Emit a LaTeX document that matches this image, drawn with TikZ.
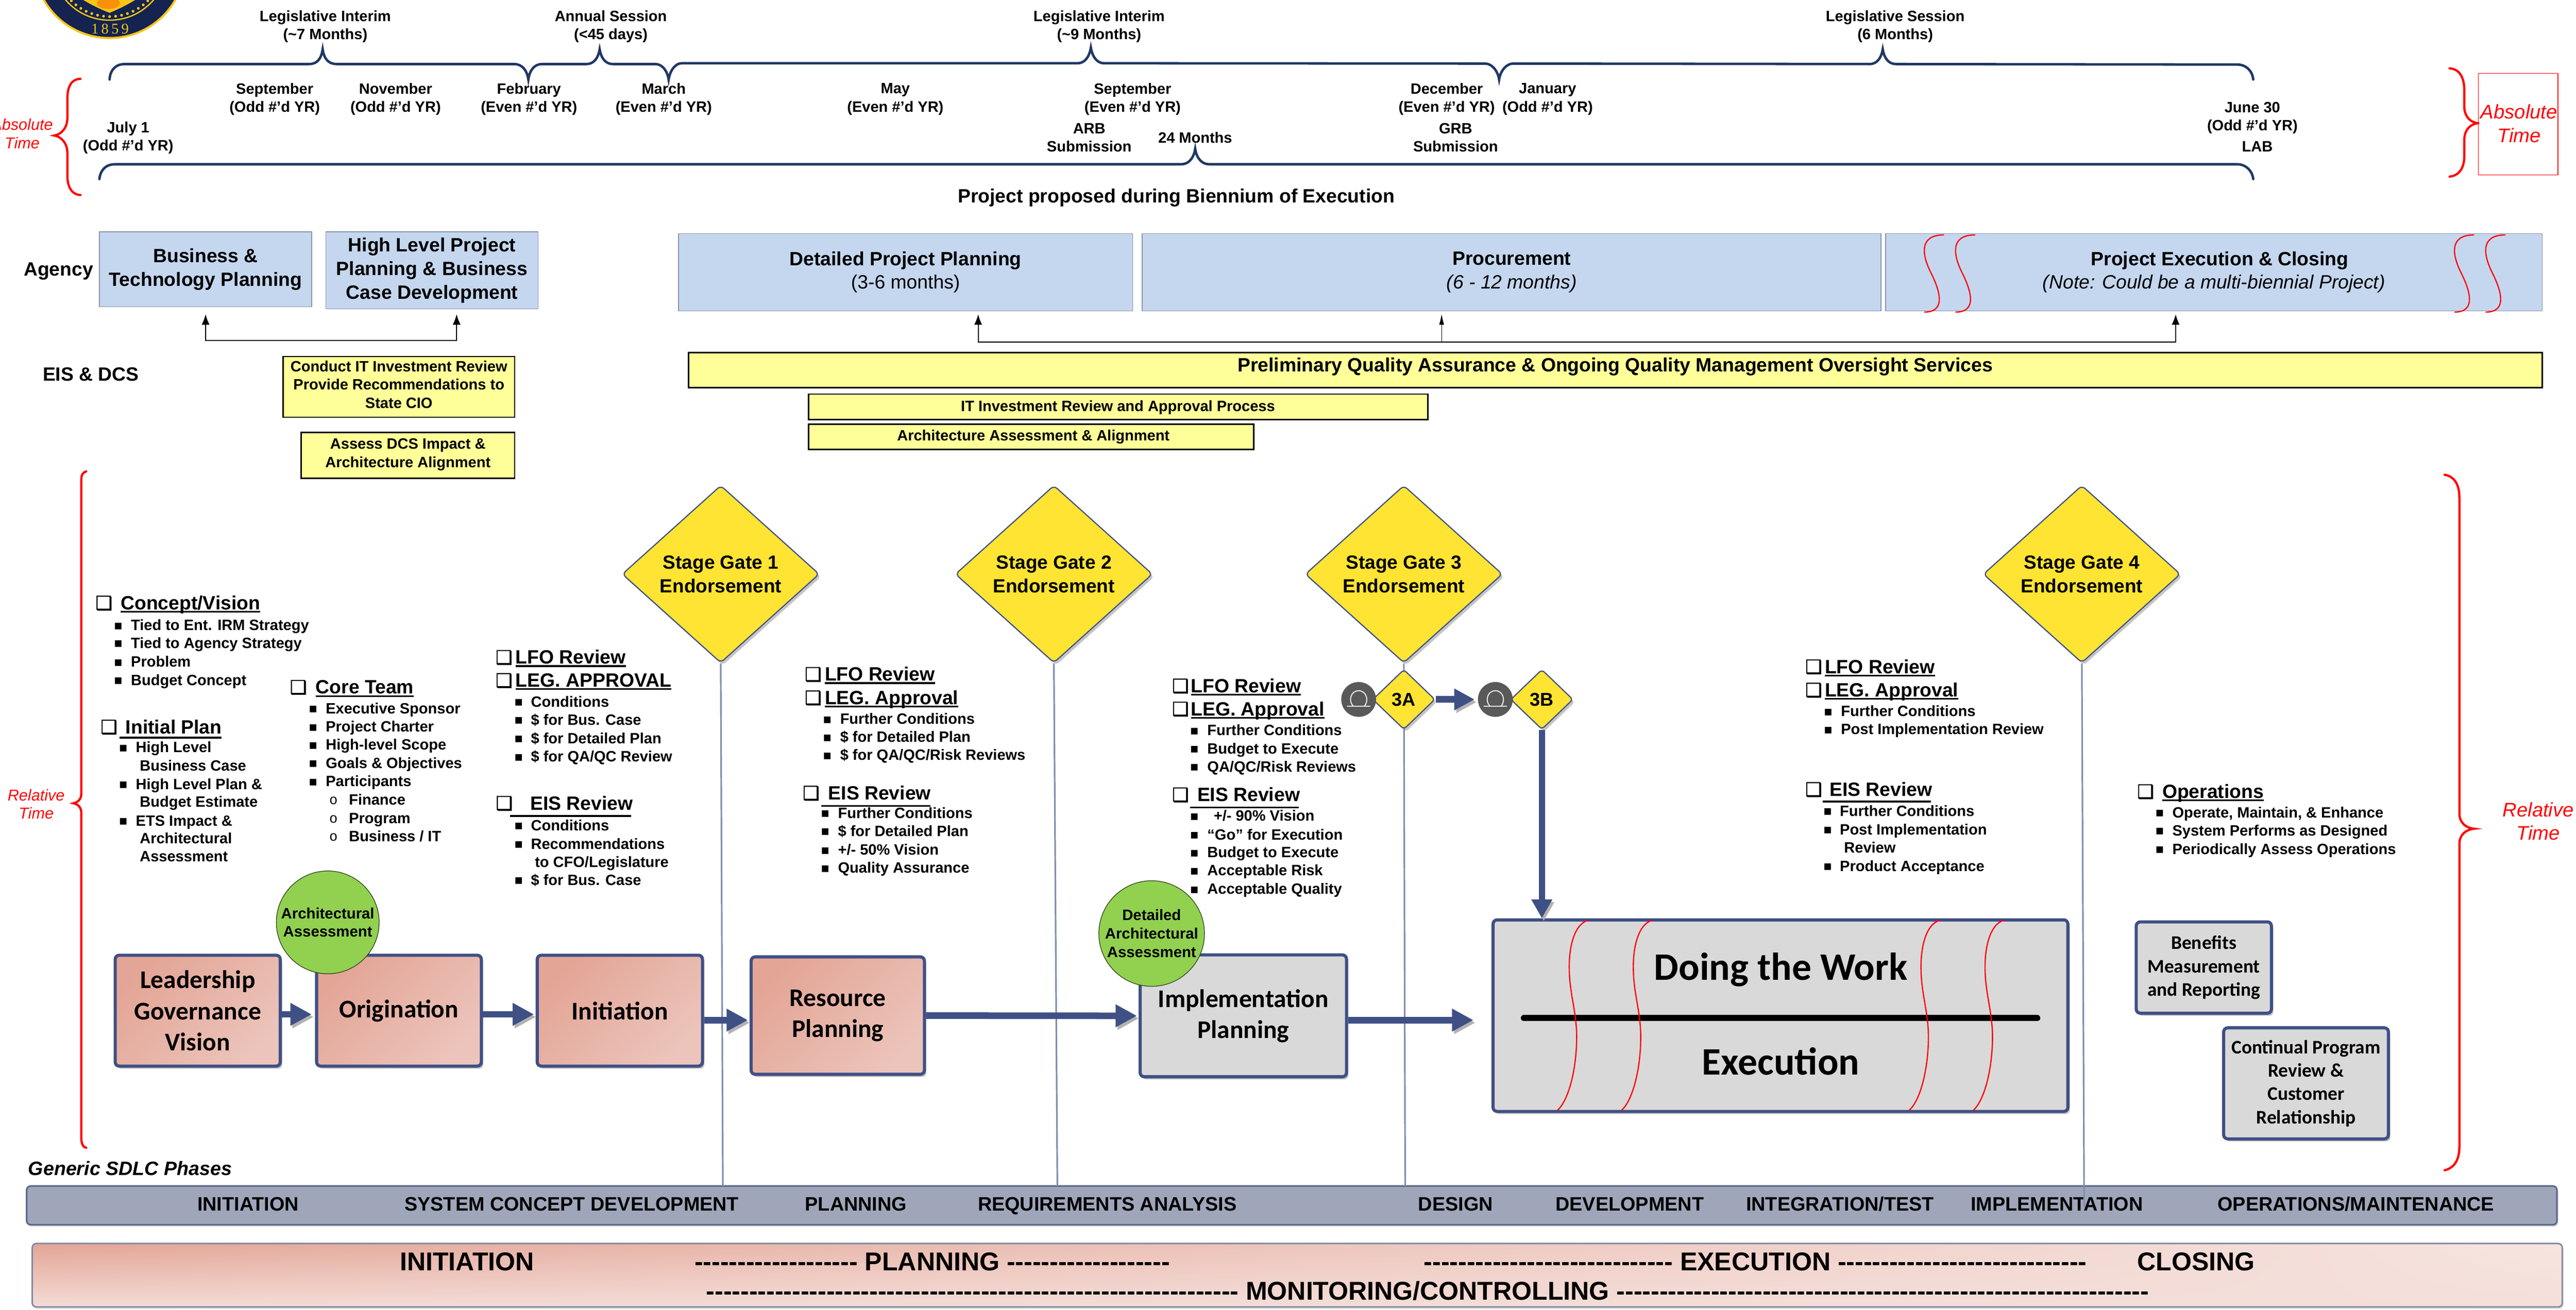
\documentclass[tikz,border=0pt]{standalone}
\usepackage{fontspec}
\setmainfont{Liberation Sans}
\newfontfamily\calfont{Carlito}
\newfontfamily\djfont{DejaVu Sans}
\newfontfamily\cbfont[FakeBold=1.2]{DejaVu Sans}
\newfontfamily\sealfont[LetterSpace=18]{Liberation Serif}
\newfontfamily\courfont{Liberation Mono}
\usetikzlibrary{arrows.meta,shapes.geometric,shadows,shadings,calc}
\definecolor{navybrace}{HTML}{1F3864}
\definecolor{boxnavy}{HTML}{3F5085}
\definecolor{agencyblue}{HTML}{C5D7EF}
\definecolor{agencyedge}{HTML}{8794AC}
\definecolor{paleyellow}{HTML}{FFFF99}
\definecolor{gateyellow}{HTML}{FFE433}
\definecolor{salmonA}{HTML}{E3A596}
\definecolor{salmonB}{HTML}{ECC4BB}
\definecolor{boxgray}{HTML}{D9D9D9}
\definecolor{leafgreen}{HTML}{92D050}
\definecolor{barfill}{HTML}{9FA6BA}
\definecolor{baredge}{HTML}{5E6A8C}
\definecolor{gateline}{HTML}{8290AE}
\definecolor{sealgold}{HTML}{F5C518}
\definecolor{sealnavy}{HTML}{14234F}
\definecolor{icongray}{HTML}{595959}
\newcounter{tc}
\newcommand\ul[1]{\leavevmode\setbox0\hbox{#1}\rlap{\rule[-1.8pt]{\wd0}{1pt}}\box0}
\newcommand\rbox[7]{\pgfmathsetmacro\cxx{(#3+#5)/2}\pgfmathsetmacro\cyy{(#4+#6)/2}\pgfmathsetmacro\wwd{#5-#3}\pgfmathsetmacro\hhd{#6-#4}%
  \node[#1,minimum width=\wwd pt,minimum height=\hhd pt] (#2) at (\cxx,\cyy) {#7};}
\newcommand\hd[3]{\stepcounter{tc}\node[hdtext] (t\arabic{tc}) at (#1,#2) {\ul{#3}};}
\newcommand\hdn[3]{\stepcounter{tc}\node[hdtext] (t\arabic{tc}) at (#1,#2) {#3};}
\newcommand\cbx[2]{\stepcounter{tc}\node[cbtext] (t\arabic{tc}) at (#1,#2) {❑};}
\newcommand\bul[4]{\stepcounter{tc}\node[bltext] (t\arabic{tc}) at (#1,#3) {▪};\stepcounter{tc}\node[ittext] (t\arabic{tc}) at (#2,#3) {#4};}
\newcommand\sbul[4]{\stepcounter{tc}\node[subtext] (t\arabic{tc}) at (#1,#3) {o};\stepcounter{tc}\node[ittext] (t\arabic{tc}) at (#2,#3) {#4};}
\newcommand\lin[3]{\stepcounter{tc}\node[ittext] (t\arabic{tc}) at (#1,#2) {#3};}
\newcommand\phs[2]{\stepcounter{tc}\node[phtext] (t\arabic{tc}) at (#1,733.1) {#2};}
\newcommand\dashrun[1]{\foreach \i in {1,...,#1}{-}}
\tikzset{
  x=1pt,y=-1pt,
  softshadow/.style={drop shadow={shadow xshift=1.2pt,shadow yshift=-1.6pt,fill=black!45,opacity=.5}},
  hdtext/.style={anchor=base west,yshift=-3.6pt,inner sep=0,font=\bfseries\fontsize{11.7}{14}\selectfont},
  cbtext/.style={anchor=base,yshift=-3.6pt,inner sep=0,font=\cbfont\fontsize{11.5}{14}\selectfont},
  bltext/.style={anchor=base,yshift=-2.3pt,inner sep=0,font=\djfont\fontsize{8}{10}\selectfont},
  subtext/.style={anchor=base,yshift=-2.6pt,inner sep=0,font=\courfont\fontsize{8.5}{10}\selectfont},
  ittext/.style={anchor=base west,yshift=-2.8pt,inner sep=0,font=\bfseries\fontsize{9.1}{11}\selectfont},
  phtext/.style={anchor=base,yshift=-4pt,inner sep=0,font=\bfseries\fontsize{11.85}{14}\selectfont},
  tltext/.style={align=center,inner sep=0,yshift=-.4pt,font=\bfseries\fontsize{9.1}{11.1}\selectfont},
  bigtext/.style={align=center,inner sep=0,font=\bfseries\fontsize{11.7}{14.3}\selectfont},
  redtext/.style={align=center,inner sep=0,text=red,font=\itshape},
  bluebox/.style={rectangle,draw=agencyedge,line width=.5pt,fill=agencyblue,inner sep=0,align=center,execute at begin node={\rule{0pt}{12.6pt}},font=\bfseries\fontsize{11.7}{14.3}\selectfont},
  yelbox/.style={rectangle,draw=black,line width=.9pt,fill=paleyellow,inner sep=0,align=center,text depth=3pt,font=\bfseries\fontsize{9.1}{11.1}\selectfont},
  procbox/.style={rectangle,rounded corners=2.5pt,draw=boxnavy,line width=1.9pt,inner sep=0,align=center,softshadow,shading=axis,left color=salmonB,right color=salmonA,shading angle=-135,font=\calfont\bfseries\fontsize{15.5}{18.9}\selectfont},
  graybox/.style={rectangle,rounded corners=2.5pt,draw=boxnavy,line width=1.9pt,inner sep=0,align=center,softshadow,fill=boxgray,font=\calfont\bfseries\fontsize{15.5}{18.9}\selectfont},
  smallgray/.style={graybox,font=\calfont\bfseries\fontsize{11.7}{14.2}\selectfont},
  gatebox/.style={diamond,rounded corners=2.5pt,draw=boxnavy,line width=.7pt,fill=gateyellow,inner sep=0,align=center,softshadow,minimum width=120pt,minimum height=108pt,font=\bfseries\fontsize{11.6}{14.3}\selectfont},
  smallgate/.style={diamond,rounded corners=2pt,draw=boxnavy,line width=.7pt,fill=gateyellow,inner sep=0,softshadow,minimum width=38pt,minimum height=36.5pt,font=\bfseries\fontsize{11.3}{14}\selectfont},
  iconc/.style={circle,fill=icongray,inner sep=0,minimum size=21.2pt},
  iconline/.style={draw=white!85!icongray,line width=.65pt,line cap=round},
  greenc/.style={circle,draw=black!70!leafgreen,line width=.4pt,fill=leafgreen,inner sep=0,align=center,font=\bfseries\fontsize{9.2}{11.2}\selectfont},
  blockarrow/.style={draw=boxnavy,line width=4pt,-{Triangle[width=13pt,length=13pt]},preaction={draw=black!30,transform canvas={shift={(1.2pt,-1.6pt)}}}},
  navyb/.style={draw=navybrace,line width=1.5pt,line cap=round},
  redb/.style={draw=red,line width=1.35pt,line cap=round},
  redw/.style={draw=red,line width=.75pt},
  agarrow/.style={draw=black,line width=.7pt,{Latex[length=6.4pt,width=4.8pt]}-{Latex[length=6.4pt,width=4.8pt]}},
  agthin/.style={draw=black,line width=.3pt,-{Latex[length=6.4pt,width=3pt]}},
  gline/.style={draw=gateline,line width=1pt},
  ulline/.style={draw=black,line width=1.1pt},
}
\begin{document}
\begin{tikzpicture}
\path[use as bounding box,clip] (0,0) rectangle (1568,797.4);
\fill[white] (0,0) rectangle (1568,797.4);
% seal
\fill[sealgold] (66.7,-22.9) circle (46.7pt);
\fill[sealnavy] (66.7,-22.9) circle (45.4pt);
\draw[sealgold,line width=.8pt] (66.7,-22.9) circle (35.2pt);
\foreach \k in {-7,...,7}{\fill[sealgold] ({66.7+33*cos(90+6.4*\k)},{-22.9+33*sin(90+6.4*\k)}) circle (.85pt);}
\fill[sealgold] (46,-3) .. controls (55,3) and (62,6) .. (66.7,7.8) .. controls (71,6) and (78,3) .. (87,-3) -- cycle;
\fill[orange!80!red,opacity=.55] (66,2) ellipse (7pt and 3.5pt);
\node[inner sep=0,text=sealgold,font=\sealfont\fontsize{9}{10}\selectfont] (seal) at (67,17.6) {1859};
% braces
\draw[navyb] (66.7,48.4) .. controls (67,43) and (70,39) .. (76,39)
 -- (188,39) .. controls (193,39) and (195.5,36) .. (196.4,30) .. controls (197.3,36) and (200,39) .. (205,39)
 -- (313,39) .. controls (318,39) and (320.8,43) .. (321.6,48.4) .. controls (322.4,43) and (325,39) .. (330,39)
 -- (357,39) .. controls (361,39) and (364,36) .. (365,30) .. controls (366,36) and (369,39) .. (373,39)
 -- (399,39) .. controls (403,39) and (406.2,43) .. (407,48.4) .. controls (407.8,43) and (411,38.5) .. (415,38.5)
 -- (656,38.5) .. controls (660,38.5) and (663,35) .. (664,29) .. controls (665,35) and (668,38.5) .. (672,38.5)
 -- (904,38.7) .. controls (908,38.7) and (911.7,43) .. (912.5,48.4) .. controls (913.3,43) and (917,38.7) .. (921,38.7)
 -- (1138,39) .. controls (1142,39) and (1145,36) .. (1146,30) .. controls (1147,36) and (1150,39) .. (1154,39)
 -- (1362,39.3) .. controls (1367,39.3) and (1371,43) .. (1371.5,48.4);
\draw[navyb] (60.5,109) .. controls (61,104) and (64,100) .. (70,100) -- (719,100)
 .. controls (723,100) and (726.5,97) .. (727.5,90.6) .. controls (728.5,97) and (732,100) .. (736,100)
 -- (1362,100) .. controls (1367,100) and (1371,104) .. (1371.5,109);
\draw[redb] (49,48) .. controls (44,48) and (41,52) .. (41,60) -- (41,72) .. controls (41,78) and (37,82) .. (33,82.5) .. controls (37,83) and (41,87) .. (41,93) -- (41,107) .. controls (41,114) and (44,118.7) .. (49,118.7);
\draw[redb] (1491,41.6) .. controls (1497,42) and (1500,47) .. (1500,55) -- (1500,65) .. controls (1500,71) and (1504,75) .. (1509,75) .. controls (1504,75) and (1500,79) .. (1500,85) -- (1500,95) .. controls (1500,102) and (1497,107) .. (1491,107.5);
\draw[redb] (52.5,287) .. controls (50.5,287.5) and (49.5,289) .. (49.5,292) -- (49.5,483) .. controls (49.5,487) and (47,488.5) .. (44.7,489) .. controls (47,489.5) and (49.5,491) .. (49.5,495) -- (49.5,693) .. controls (49.5,696) and (50.5,698.5) .. (52.5,698.7);
\draw[redb] (1488,289) .. controls (1494,290) and (1497,295) .. (1497,303) -- (1497,495) .. controls (1497,501) and (1501,504) .. (1506,504.5) .. controls (1501,505) and (1497,508) .. (1497,514) -- (1497,698) .. controls (1497,706) and (1494,711) .. (1488,712.4);
% red labels
\node[rectangle,draw=red,line width=.5pt,minimum width=48.5pt,minimum height=61.8pt,inner sep=0] (abrect) at (1532.75,75.6) {};
\node[redtext,font=\itshape\fontsize{12}{14.3}\selectfont] (abright) at (1533.3,75.2) {Absolute\\Time};
\node[redtext,font=\itshape\fontsize{9.6}{11.2}\selectfont] (ableft) at (13.5,81.5) {Absolute\\Time};
\node[redtext,font=\itshape\fontsize{9.6}{11.2}\selectfont] (relleft) at (22,489.5) {Relative\\Time};
\node[redtext,font=\itshape\fontsize{12}{14.3}\selectfont] (relright) at (1545,500) {Relative\\Time};
% timeline text
\node[tltext] (a1) at (198,15.8) {Legislative Interim\\(\textasciitilde 7 Months)};
\node[tltext] (a2) at (371.8,15.8) {Annual Session\\(<45 days)};
\node[tltext] (a3) at (669,15.8) {Legislative Interim\\(\textasciitilde 9 Months)};
\node[tltext] (a4) at (1153.6,15.8) {Legislative Session\\(6 Months)};
\node[tltext] (b1) at (167.2,60) {September\\(Odd \#’d YR)};
\node[tltext] (b2) at (240.8,60) {November\\(Odd \#’d YR)};
\node[tltext] (b3) at (322,60) {February\\(Even \#’d YR)};
\node[tltext] (b4) at (404,60) {March\\(Even \#’d YR)};
\node[tltext] (b5) at (545,60) {May\\(Even \#’d YR)};
\node[tltext] (b6) at (689.4,60) {September\\(Even \#’d YR)};
\node[tltext] (b7) at (880.6,60) {December\\(Even \#’d YR)};
\node[tltext] (b8) at (942,60) {January\\(Odd \#’d YR)};
\node[tltext] (c1) at (78,83.4) {July 1\\(Odd \#’d YR)};
\node[tltext] (c2) at (663,83.4) {ARB\\Submission};
\node[tltext] (c3) at (727.5,83.3) {24 Months};
\node[tltext] (c4) at (886,83.4) {GRB\\Submission};
\node[tltext] (c5) at (1371,71.3) {June 30\\(Odd \#’d YR)};
\node[tltext] (c6) at (1374,88.7) {LAB};
\node[bigtext] (biennium) at (716,120.4) {Project proposed during Biennium of Execution};
\node[bigtext] (agencyl) at (35.6,165) {Agency};
\node[bigtext] (eisl) at (55.3,228) {EIS \& DCS};
% agency boxes
\rbox{bluebox}{bus}{60.5}{141.2}{189.8}{186.8}{Business \&\\Technology Planning}
\rbox{bluebox}{high}{198.4}{141.2}{327.5}{188}{High Level Project\\Planning \& Business\\Case Development}
\rbox{bluebox}{detail}{413}{142.2}{689.4}{189.3}{Detailed Project Planning\\{\mdseries (3-6 months)}}
\rbox{bluebox}{proc}{695.3}{142.2}{1145}{189.3}{Procurement\\{\mdseries\itshape (6 - 12 months)}}
\rbox{bluebox}{exec}{1147.8}{142.2}{1547.5}{189.3}{\hspace*{7pt}Project Execution \& Closing\\{\mdseries\itshape (Note: Could be a multi-biennial Project)}}
\foreach \a in {1183.3,1202.3,1506,1525}{
  \draw[redw,xshift=\a pt] (0,143) .. controls (-16,143) and (-13,156) .. (-8,166) .. controls (-3,176) and (2,190) .. (-12,190);}
\draw[agarrow] ([yshift=-4.2pt]bus.south) -- ++(0,16) -| ([xshift=15pt,yshift=-3pt]high.south);
\draw[agarrow] ([xshift=44.2pt,yshift=-1.7pt]detail.south) -- ++(0,16.9) -| ([xshift=-23.35pt,yshift=-1.7pt]exec.south);
\coordinate (junction) at (877.5,207.9);
\draw[agthin] (junction) -- ([xshift=-42.65pt,yshift=-1.7pt]proc.south);
% yellow boxes
\rbox{yelbox}{conduct}{172.3}{217}{313.3}{254}{Conduct IT Investment Review\\Provide Recommendations to\\State CIO}
\rbox{yelbox}{assess}{183.3}{263.3}{313.3}{291.3}{Assess DCS Impact \&\\Architecture Alignment}
\rbox{yelbox}{prelim}{419}{214.6}{1547.5}{236}{}
\node[bigtext] (prelimtext) at (983.2,223.4) {Preliminary Quality Assurance \& Ongoing Quality Management Oversight Services};
\rbox{yelbox}{itrev}{492.2}{239.9}{869}{255.5}{\hspace*{0pt}}
\node[tltext] (itrevtext) at (680.5,247.6) {IT Investment Review and Approval Process};
\rbox{yelbox}{archal}{492.2}{258.2}{763}{273.7}{\hspace*{0pt}}
\node[tltext] (archaltext) at (629,265.6) {Architecture Assessment \& Alignment};
% phase bars
\rbox{rectangle,rounded corners=2.5pt,draw=baredge,line width=1pt,fill=barfill,inner sep=0,drop shadow={shadow xshift=.8pt,shadow yshift=-1.1pt,fill=black!40,opacity=.4}}{phase}{16.2}{722}{1556.4}{745.6}{}
\rbox{rectangle,rounded corners=2.5pt,draw=baredge!80,line width=.9pt,inner sep=0,shading=bilinear interpolation,upper left=salmonA,upper right=salmonB!45!white,lower left=salmonB!60!white,lower right=salmonB!55!white,drop shadow={shadow xshift=.8pt,shadow yshift=-1.1pt,fill=black!40,opacity=.4}}{lifecycle}{19.6}{757}{1559.6}{795.6}{}
\phs{151}{INITIATION}\phs{348}{SYSTEM CONCEPT DEVELOPMENT}\phs{521}{PLANNING}\phs{674}{REQUIREMENTS ANALYSIS}\phs{886}{DESIGN}\phs{992}{DEVELOPMENT}\phs{1120}{INTEGRATION/TEST}\phs{1252}{IMPLEMENTATION}\phs{1434}{OPERATIONS/MAINTENANCE}
\node[anchor=base west,inner sep=0,font=\bfseries\itshape\fontsize{11.8}{14}\selectfont] (sdlc) at (17,715.4) {Generic SDLC Phases};
\tikzset{lc/.style={anchor=base,inner sep=0,font=\bfseries\fontsize{15.7}{18}\selectfont}}
\node[lc] (lc1) at (284.3,773.6) {INITIATION};
\node[lc] (lc2) at (567.5,773.6) {\dashrun{19} PLANNING \dashrun{19}};
\node[lc] (lc3) at (1068.5,773.6) {\dashrun{29} EXECUTION \dashrun{29}};
\node[lc] (lc4) at (1336.7,773.6) {CLOSING};
\node[lc] (lc5) at (869,791.4) {\dashrun{62} MONITORING/CONTROLLING \dashrun{62}};
% gates
\node[gatebox] (g1) at (438.7,349.5) {Stage Gate 1\\Endorsement};
\node[gatebox] (g2) at (641.5,349.5) {Stage Gate 2\\Endorsement};
\node[gatebox] (g3) at (854.5,349.5) {Stage Gate 3\\Endorsement};
\node[gatebox] (g4) at (1267.2,349.5) {Stage Gate 4\\Endorsement};
\coordinate (g1end) at (440,722);
\coordinate (g2end) at (643.6,722);
\coordinate (g3end) at (855.3,722);
\coordinate (g4end) at (1268.6,734.8);
\draw[gline] (g1.south) -- (g1end);
\draw[gline] (g2.south) -- (g2end);
\draw[gline] (g3.south) -- (g3end);
\draw[gline] (g4.south) -- (g4end);
\node[smallgate] (d3a) at (854.5,425.8) {3A};
\node[smallgate] (d3b) at (938.5,425.8) {3B};
\foreach \nm/\px in {c3a/827,c3b/910.2}{
  \node[iconc] (\nm) at (\px,425.8) {};
  \begin{scope}[shift={(\nm.center)}]
    \draw[iconline] (-6.9,4.1) -- (6.9,4.1);
    \draw[iconline] (-3.5,3.8) .. controls (-6.3,1) and (-5,-5.3) .. (0,-5.3) .. controls (5,-5.3) and (6.3,1) .. (3.5,4.1);
  \end{scope}}
% process boxes
\rbox{procbox}{lead}{70.1}{581.5}{170.6}{649}{Leadership\\Governance\\Vision}
\rbox{procbox}{orig}{192.7}{581.5}{293}{649}{Origination}
\rbox{procbox}{init}{327}{581.5}{427.6}{649}{Initiation}
\rbox{procbox}{resp}{457.2}{582.5}{562.7}{654}{Resource\\Planning}
\rbox{graybox}{impl}{694}{581.3}{819.6}{655.5}{Implementation\\Planning}
\rbox{graybox}{doing}{908.8}{560}{1258.7}{676.6}{}
\rbox{smallgray}{bene}{1300.3}{561.2}{1382.6}{616.8}{Benefits\\Measurement\\and Reporting}
\rbox{smallgray}{cont}{1353.5}{625.7}{1453.8}{693.3}{Continual Program\\Review \&\\Customer\\Relationship}
\tikzset{dtext/.style={inner sep=0,font=\calfont\bfseries\fontsize{23.7}{28}\selectfont}}
\node[dtext] (dotext) at (1084,590.3) {Doing the Work};
\node[dtext] (extext) at (1084,646) {Execution};
\coordinate (barL) at (927.6,619.8);
\coordinate (barR) at (1240,619.8);
\draw[line width=3.8pt,line cap=round] (barL) -- (barR);
\foreach \a in {966.9,1005.9,1181,1220}{
  \draw[redw,xshift=\a pt] (0,560.2) .. controls (-8,562) and (-12,575) .. (-11.7,590) .. controls (-11.5,605) and (-7.5,615) .. (-7.2,630) .. controls (-7,650) and (-12,670) .. (-19,676);}
% block arrows
\draw[blockarrow] ([yshift=-2.25pt]lead.east) -- ([yshift=-2.25pt,xshift=-2pt]orig.west);
\draw[blockarrow] ([yshift=-2.25pt]orig.east) -- ([yshift=-2.25pt,xshift=-1pt]init.west);
\draw[blockarrow] ([yshift=-5.75pt]init.east) -- ([yshift=-2.75pt,xshift=-1pt]resp.west);
\draw[blockarrow] (resp.east) -- ([xshift=-1pt]impl.west);
\draw[blockarrow,shorten >=11pt] ([yshift=-2.6pt]impl.east) -- ([yshift=-2.7pt]doing.west);
\draw[blockarrow,-{Triangle[width=12.4pt,length=12.4pt]}] (d3a.east) -- ([xshift=-1.8pt]c3b.west);
\draw[blockarrow,line width=3.8pt,-{Triangle[width=12pt,length=11.5pt]}] (d3b.south) -- (d3b.south |- doing.north);
% green circles
\node[greenc,minimum size=62.6pt] (archc) at (199.5,561.5) {Architectural\\Assessment};
\node[greenc,minimum size=64.3pt] (detc) at (701,568.3) {Detailed\\Architectural\\Assessment};
% lists
\cbx{63.3}{367.5}\hd{73.3}{367.5}{Concept/Vision}
\bul{72}{79.5}{381}{Tied to Ent. IRM Strategy}
\bul{72}{79.5}{391.8}{Tied to Agency Strategy}
\bul{72}{79.5}{403.3}{Problem}
\bul{72}{79.5}{414.3}{Budget Concept}
\cbx{66.4}{443}\hdn{76.3}{443}{Initial Plan}
\coordinate (ipL) at (72.9,449);\coordinate (ipR) at (134.8,449);\draw[ulline] (ipL) -- (ipR);
\bul{75}{82.5}{455.3}{High Level}
\lin{84.9}{466.5}{Business Case}
\bul{75}{82.5}{477.7}{High Level Plan \&}
\lin{84.9}{488.6}{Budget Estimate}
\bul{75}{82.5}{499.9}{ETS Impact \&}
\lin{84.9}{510.8}{Architectural}
\lin{84.9}{521.7}{Assessment}
\cbx{181.6}{418.8}\hd{192}{418.8}{Core Team}
\bul{190.6}{198.1}{431.7}{Executive Sponsor}
\bul{190.6}{198.1}{442.8}{Project Charter}
\bul{190.6}{198.1}{453.7}{High-level Scope}
\bul{190.6}{198.1}{464.8}{Goals \& Objectives}
\bul{190.6}{198.1}{476}{Participants}
\sbul{203}{212.2}{487.1}{Finance}
\sbul{203}{212.2}{498.4}{Program}
\sbul{203}{212.2}{509.4}{Business / IT}
\cbx{306.8}{400.6}\hd{313.7}{400.6}{LFO Review}
\cbx{306.8}{414.6}\hd{313.7}{414.6}{LEG. APPROVAL}
\bul{315.7}{323}{427.5}{Conditions}
\bul{315.7}{323}{438.6}{\$ for Bus. Case}
\bul{315.7}{323}{449.8}{\$ for Detailed Plan}
\bul{315.7}{323}{461}{\$ for QA/QC Review}
\cbx{307}{489.4}\hdn{322.6}{489.4}{EIS Review}
\coordinate (e1L) at (310.5,496.7);\coordinate (e1R) at (384.2,496.7);\draw[ulline] (e1L) -- (e1R);
\bul{315.7}{323}{502.9}{Conditions}
\bul{315.7}{323}{514.1}{Recommendations}
\lin{325.4}{525}{to CFO/Legislature}
\bul{315.7}{323}{536}{\$ for Bus. Case}
\cbx{495}{410.9}\hd{501.9}{410.9}{LFO Review}
\cbx{495}{425.2}\hd{501.9}{425.2}{LEG. Approval}
\bul{503.6}{511.2}{438}{Further Conditions}
\bul{503.6}{511.2}{449}{\$ for Detailed Plan}
\bul{503.6}{511.2}{460}{\$ for QA/QC/Risk Reviews}
\cbx{493.7}{483.2}\hdn{504}{483.2}{EIS Review}
\coordinate (e2L) at (499.9,490.6);\coordinate (e2R) at (566.3,490.6);\draw[ulline] (e2L) -- (e2R);
\bul{502.3}{509.9}{495.2}{Further Conditions}
\bul{502.3}{509.9}{506.3}{\$ for Detailed Plan}
\bul{502.3}{509.9}{517.7}{+/- 50\% Vision}
\bul{502.3}{509.9}{528.7}{Quality Assurance}
\cbx{718.6}{418}\hd{724.7}{418}{LFO Review}
\cbx{718.6}{432}\hd{724.7}{432}{LEG. Approval}
\bul{727}{734.7}{445}{Further Conditions}
\bul{727}{734.7}{456}{Budget to Execute}
\bul{727}{734.7}{467}{QA/QC/Risk Reviews}
\cbx{718.6}{484.2}\hdn{728.6}{484.2}{EIS Review}
\coordinate (e3L) at (724.5,491.6);\coordinate (e3R) at (790.5,491.6);\draw[ulline] (e3L) -- (e3R);
\bul{727}{738.6}{497}{+/- 90\% Vision}
\bul{727}{734.7}{508.4}{“Go” for Execution}
\bul{727}{734.7}{519.3}{Budget to Execute}
\bul{727}{734.7}{530.3}{Acceptable Risk}
\bul{727}{734.7}{541.6}{Acceptable Quality}
\cbx{1104}{406.3}\hd{1110.6}{406.3}{LFO Review}
\cbx{1104}{420.5}\hd{1110.6}{420.5}{LEG. Approval}
\bul{1112.8}{1120.4}{433.4}{Further Conditions}
\bul{1112.8}{1120.4}{444.3}{Post Implementation Review}
\cbx{1104}{481}\hdn{1113.5}{481}{EIS Review}
\coordinate (e4L) at (1109.4,488);\coordinate (e4R) at (1175.3,488);\draw[ulline] (e4L) -- (e4R);
\bul{1112.5}{1119.7}{494}{Further Conditions}
\bul{1112.5}{1119.7}{505.4}{Post Implementation}
\lin{1122.3}{516.5}{Review}
\bul{1112.5}{1119.7}{527.5}{Product Acceptance}
\cbx{1306}{482.3}\hd{1316}{482.3}{Operations}
\bul{1314.6}{1322.1}{495}{Operate, Maintain, \& Enhance}
\bul{1314.6}{1322.1}{506}{System Performs as Designed}
\bul{1314.6}{1322.1}{517.3}{Periodically Assess Operations}
\end{tikzpicture}
\end{document}
